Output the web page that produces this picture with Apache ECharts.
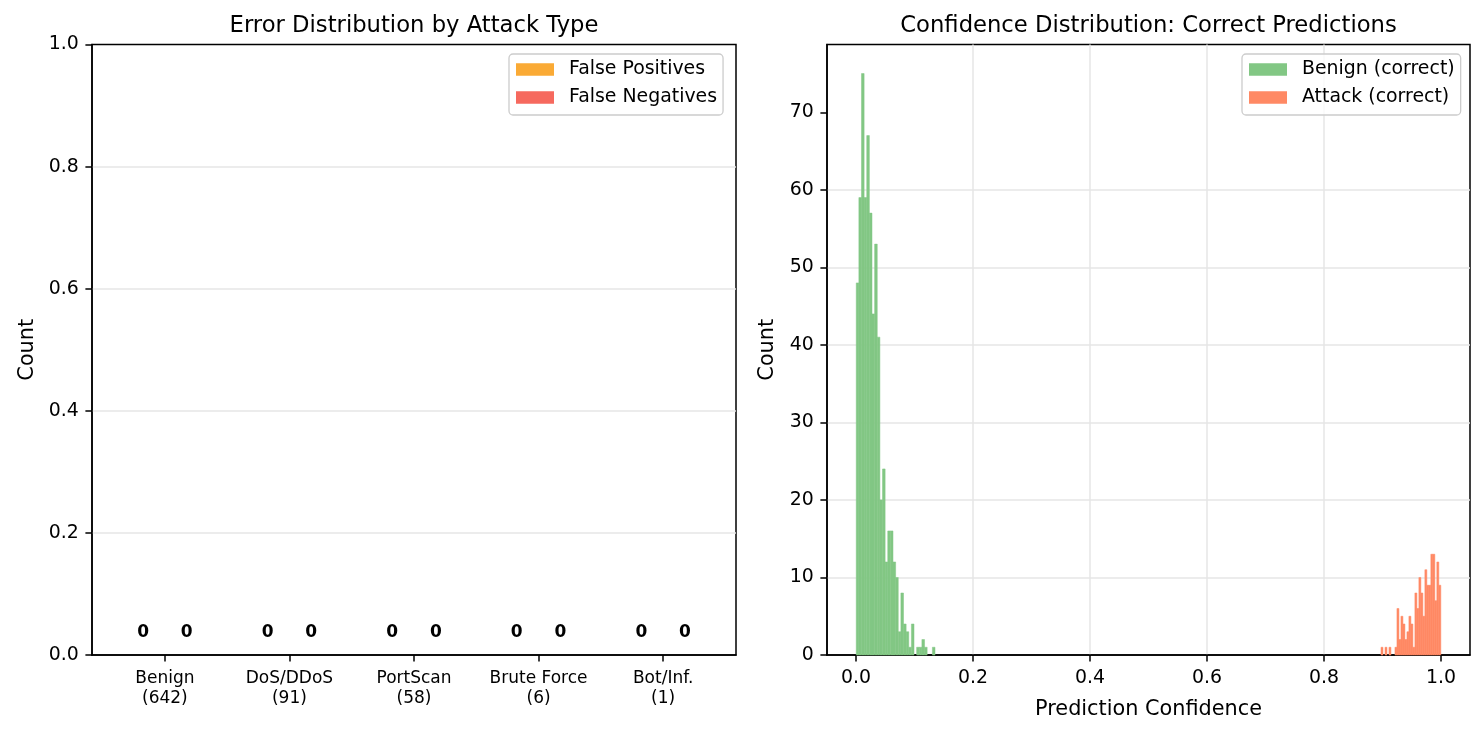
<!DOCTYPE html>
<html>
<head>
<meta charset="utf-8">
<title>Errors and confidence</title>
<script src="https://cdn.jsdelivr.net/npm/echarts@6/dist/echarts.min.js"></script>
<style>
  html, body { margin: 0; padding: 0; background: #fff; }
  #chart { width: 1484px; height: 735px; }
</style>
</head>
<body>
<div id="chart"></div>
<script>
// left panel: errors per attack type
const attackTypes = ['Benign', 'DoS/DDoS', 'PortScan', 'Brute Force', 'Bot/Inf.'];
const typeCounts = [642, 91, 58, 6, 1];
const falsePositives = [0, 0, 0, 0, 0];
const falseNegatives = [0, 0, 0, 0, 0];
const errorTicks = [0, 0.2, 0.4, 0.6, 0.8, 1.0];
const typeTicks = [0, 1, 2, 3, 4];

// right panel: confidence histograms, 30 bins each
const benignRange = [0.0003, 0.1350];
const benignCounts = [48, 59, 75, 59, 67, 57, 44, 53, 41, 20, 24, 12, 16, 16, 12,
  10, 3, 8, 4, 3, 1, 4, 0, 1, 1, 2, 1, 0, 0, 1];
const attackRange = [0.8975, 0.9998];
const attackCounts = [1, 0, 1, 0, 1, 0, 0, 1, 6, 2, 5, 4, 2, 3, 5, 4, 1, 8, 6, 10,
  8, 5, 11, 9, 9, 13, 13, 7, 12, 9];
const confTicks = [0, 0.2, 0.4, 0.6, 0.8, 1.0];
const countTicks = [0, 10, 20, 30, 40, 50, 60, 70];

const FONT = 'DejaVu Sans';
const colors = { fp: '#FAAA35', fn: '#F6695E', benign: '#82C784', attack: '#FF8964' };
const gridColor = '#e6e6e6';

// counts -> [x0, x1, count] like numpy histogram edges
const toBins = (range, counts) => {
  const w = (range[1] - range[0]) / counts.length;
  return counts.map((c, i) => [range[0] + i * w, range[0] + (i + 1) * w, c]);
};

const lineStyle = { color: '#000', width: 1.5 };
const axisLine = { show: true, onZero: false, lineStyle };
const tickStyle = values => ({ show: true, length: 6.6, lineStyle, customValues: values });
const labelStyle = (values, fmt) => ({
  customValues: values,
  formatter: fmt,
  color: '#000',
  fontFamily: FONT,
  fontSize: 18.9,
  margin: 13.2,
});
const splitLine = { show: true, showMinLine: false, showMaxLine: false, lineStyle: { color: gridColor, width: 1.5 } };
const nameStyle = { color: '#000', fontFamily: FONT, fontSize: 20.8 };

// grouped error bars, value label sits just above the bar
const errorBar = offset => (params, api) => {
  const i = api.value(0);
  const v = api.value(1);
  const p0 = api.coord([i + offset - 0.175, v]);
  const p1 = api.coord([i + offset + 0.175, 0]);
  return {
    type: 'group',
    children: [
      {
        type: 'rect',
        shape: { x: p0[0], y: p0[1], width: p1[0] - p0[0], height: p1[1] - p0[1] },
        style: { fill: api.visual('color') },
      },
      {
        type: 'text',
        x: (p0[0] + p1[0]) / 2,
        y: p0[1] - 22,
        style: {
          text: String(v),
          fill: '#000',
          font: `bold 17px "${FONT}"`,
          align: 'center',
          verticalAlign: 'middle',
        },
      },
    ],
  };
};

// thin same-colour stroke hides the antialias seams between adjacent bins
const histBar = (params, api) => {
  const p0 = api.coord([api.value(0), api.value(2)]);
  const p1 = api.coord([api.value(1), 0]);
  if (api.value(2) <= 0) return null;
  return {
    type: 'rect',
    shape: { x: p0[0], y: p0[1], width: p1[0] - p0[0], height: p1[1] - p0[1] },
    style: { fill: api.visual('color'), stroke: api.visual('color'), lineWidth: 0.5 },
  };
};

const legendBase = {
  orient: 'vertical',
  top: 54,
  icon: 'rect',
  itemWidth: 38,
  itemHeight: 12.5,
  itemGap: 9,
  padding: [6, 6, 8, 7],
  backgroundColor: 'rgba(255,255,255,0.8)',
  borderColor: '#cccccc',
  borderWidth: 1.3,
  borderRadius: 4,
  formatter: '{g|}{name}',
  textStyle: {
    color: '#000',
    fontFamily: FONT,
    fontSize: 18.9,
    lineHeight: 19,
    rich: { g: { width: 10 } },
  },
};

const option = {
  animation: false,
  backgroundColor: '#fff',
  textStyle: { fontFamily: FONT },
  title: [
    {
      text: 'Error Distribution by Attack Type',
      left: 414, top: 15, padding: 0, textAlign: 'center',
      textStyle: { color: '#000', fontFamily: FONT, fontSize: 22.7, fontWeight: 'normal' },
    },
    {
      text: 'Confidence Distribution: Correct Predictions',
      left: 1148.5, top: 15, padding: 0, textAlign: 'center',
      textStyle: { color: '#000', fontFamily: FONT, fontSize: 22.7, fontWeight: 'normal' },
    },
  ],
  legend: [
    Object.assign({}, legendBase, { left: 509, data: ['False Positives', 'False Negatives'] }),
    Object.assign({}, legendBase, { left: 1242, data: ['Benign (correct)', 'Attack (correct)'] }),
  ],
  grid: [
    { left: 92, top: 44.5, width: 644, height: 610.5, show: true, borderColor: '#000', borderWidth: 1.5, outerBoundsMode: 'none' },
    { left: 827, top: 44.5, width: 643, height: 610.5, show: true, borderColor: '#000', borderWidth: 1.5, outerBoundsMode: 'none' },
  ],
  xAxis: [
    {
      type: 'value', gridIndex: 0, min: -0.585, max: 4.585,
      axisLine,
      axisTick: tickStyle(typeTicks),
      axisLabel: Object.assign(labelStyle(typeTicks, v => {
        const i = Math.round(v);
        return `${attackTypes[i]}\n(${typeCounts[i]})`;
      }), { fontSize: 17, lineHeight: 20.4 }),
      splitLine: { show: false },
    },
    {
      type: 'value', gridIndex: 1, min: -0.0497, max: 1.0497, splitNumber: 5,
      axisLine,
      axisTick: tickStyle(confTicks),
      axisLabel: labelStyle(confTicks, v => v.toFixed(1)),
      splitLine,
      name: 'Prediction Confidence', nameLocation: 'middle', nameGap: 44,
      nameTextStyle: nameStyle,
    },
  ],
  yAxis: [
    {
      type: 'value', gridIndex: 0, min: 0, max: 1, interval: 0.2,
      axisLine,
      axisTick: tickStyle(errorTicks),
      axisLabel: labelStyle(errorTicks, v => v.toFixed(1)),
      splitLine,
      name: 'Count', nameLocation: 'middle', nameGap: 54, nameTextStyle: nameStyle,
    },
    {
      type: 'value', gridIndex: 1, min: 0, max: 78.75, interval: 10,
      axisLine,
      axisTick: tickStyle(countTicks),
      axisLabel: labelStyle(countTicks, v => String(v)),
      splitLine,
      name: 'Count', nameLocation: 'middle', nameGap: 49, nameTextStyle: nameStyle,
    },
  ],
  series: [
    {
      name: 'False Positives', type: 'custom', xAxisIndex: 0, yAxisIndex: 0,
      itemStyle: { color: colors.fp },
      renderItem: errorBar(-0.175),
      data: falsePositives.map((v, i) => [i, v]),
    },
    {
      name: 'False Negatives', type: 'custom', xAxisIndex: 0, yAxisIndex: 0,
      itemStyle: { color: colors.fn },
      renderItem: errorBar(0.175),
      data: falseNegatives.map((v, i) => [i, v]),
    },
    {
      name: 'Benign (correct)', type: 'custom', xAxisIndex: 1, yAxisIndex: 1,
      itemStyle: { color: colors.benign },
      renderItem: histBar,
      data: toBins(benignRange, benignCounts),
    },
    {
      name: 'Attack (correct)', type: 'custom', xAxisIndex: 1, yAxisIndex: 1,
      itemStyle: { color: colors.attack },
      renderItem: histBar,
      data: toBins(attackRange, attackCounts),
    },
  ],
};

const chart = echarts.init(document.getElementById('chart'));
chart.setOption(option);
</script>
</body>
</html>
